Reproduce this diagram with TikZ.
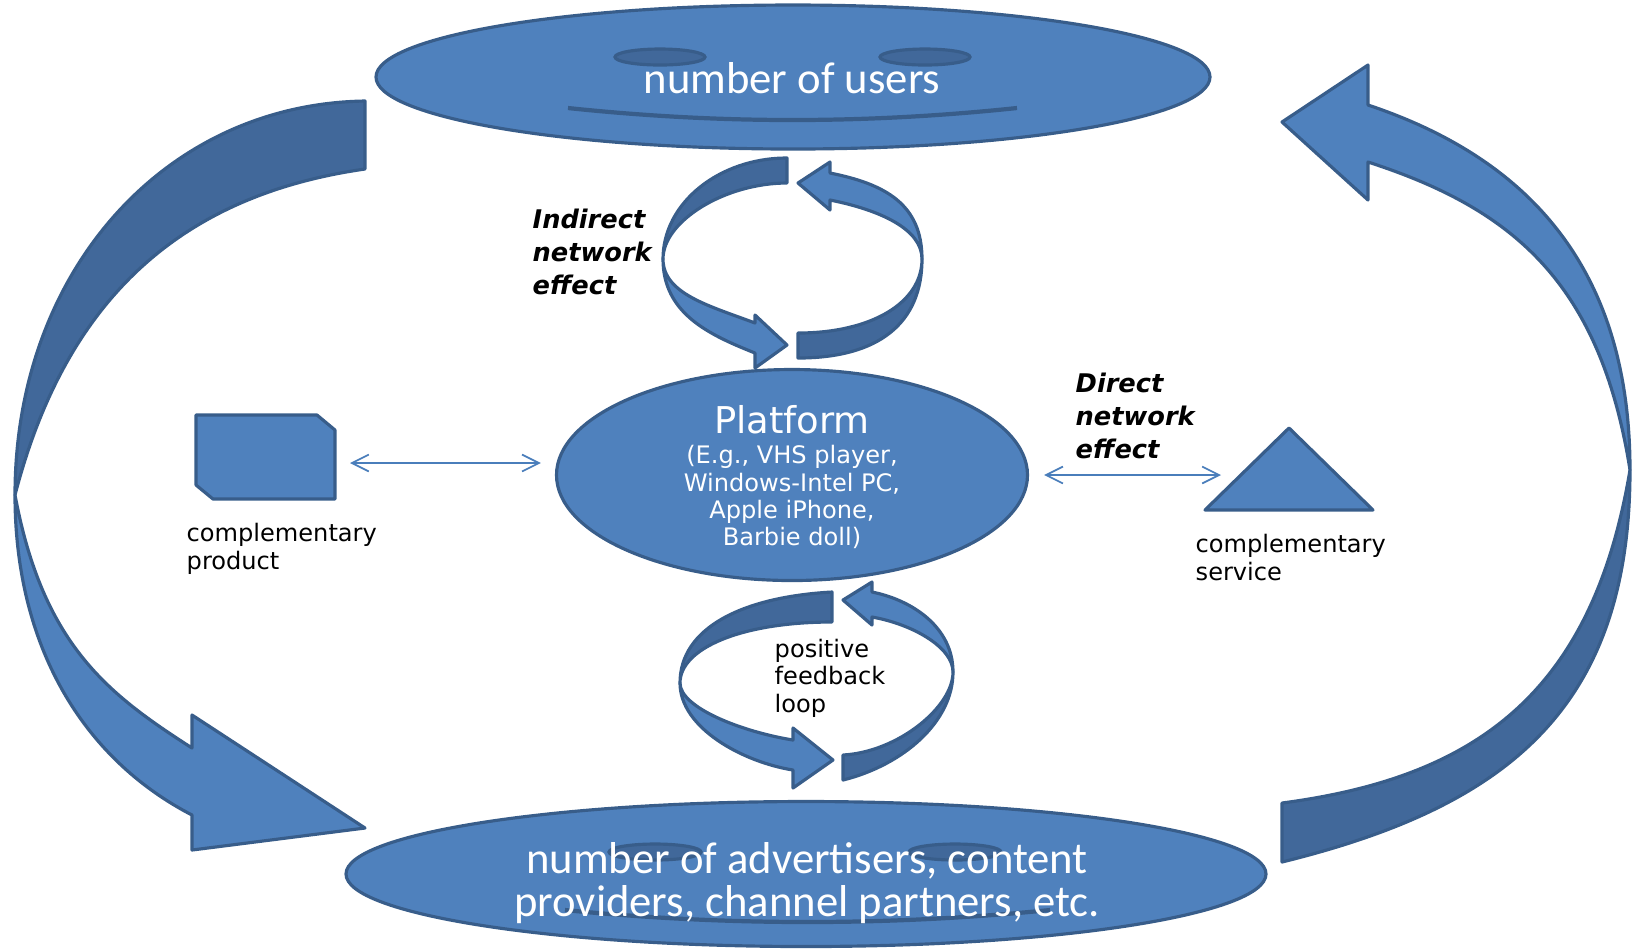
\documentclass[tikz,border=0pt]{standalone}
\usepackage{fontspec}
\usepackage{tikz}
\usetikzlibrary{arrows.meta,shapes.geometric}
\newfontfamily\vfont{DejaVu Sans}
\newfontfamily\cfont{Carlito}
\definecolor{ink}{HTML}{385D8A}
\definecolor{face}{HTML}{4F81BD}
\definecolor{shade}{HTML}{41689A}
\definecolor{thin}{HTML}{4A7EBB}
\newlength\unitpx
\setlength\unitpx{0.01cm}
\newcommand\tightlines{\lineskiplimit=-20pt\relax}

\begin{document}
\begin{tikzpicture}[
  x=0.01cm, y=-0.01cm,
  plate/.style={draw=ink,line width=0.9pt,fill=face,line join=round},
  plateback/.style={plate,fill=shade},
  blob/.style={ellipse,draw=ink,line width=0.9pt,fill=face,inner sep=0pt},
  eye/.style={draw=ink,line width=0.9pt,fill=shade},
  mouth/.style={draw=ink,line width=1.2pt},
  bigtext/.style={text=white,inner sep=0pt,font=\cfont\fontsize{12.7pt}{12.2pt}\selectfont\tightlines},
  note/.style={inner sep=0pt,align=left,anchor=base west,font=\vfont\fontsize{6.85pt}{7.7pt}\selectfont},
  tag/.style={note,font=\vfont\bfseries\itshape\fontsize{7.3pt}{9.3pt}\selectfont},
  twoway/.style={{Straight Barb[length=4.8pt,width=4.8pt]}-{Straight Barb[length=4.8pt,width=4.8pt]},draw=thin,line width=0.5pt}
]
\useasboundingbox (0,0) rectangle (1639,950);

\filldraw[plateback] (365,101) .. controls (165,104) and (15,271) .. (15,495)
  .. controls (68,290) and (190,194) .. (365,169) -- cycle;
\filldraw[plate] (15,495) .. controls (15,645) and (82,758) .. (192,815)
  -- (192,850) -- (365,828) -- (192,715) -- (192,748)
  .. controls (108,694) and (43,645) .. (15,495) -- cycle;

\filldraw[plate] (1630,470) .. controls (1630,270) and (1530,159) .. (1368,105)
  -- (1368,65) -- (1282,122) -- (1368,200) -- (1368,162)
  .. controls (1510,208) and (1600,280) .. (1630,470) -- cycle;
\filldraw[plateback] (1630,470) .. controls (1630,710) and (1505,807) .. (1282,862)
  -- (1282,803) .. controls (1480,777) and (1593,690) .. (1630,470) -- cycle;

\filldraw[plateback] (787,158) .. controls (719,158) and (663,203) .. (663,259)
  .. controls (663,221) and (725,183) .. (787,183) -- cycle;
\filldraw[plate] (663,259) .. controls (663,314) and (710,335) .. (755,353)
  -- (755,368) -- (787,345) -- (755,315) -- (755,323)
  .. controls (710,306) and (663,294) .. (663,259) -- cycle;
\filldraw[plateback] (798,358) .. controls (879,358) and (922,323) .. (922,259)
  .. controls (922,303) and (871,333) .. (798,333) -- cycle;
\filldraw[plate] (922,259) .. controls (922,204) and (885,184) .. (830,173)
  -- (830,162) -- (798,183) -- (830,210) -- (830,200)
  .. controls (880,210) and (922,229) .. (922,259) -- cycle;

\filldraw[plateback] (832,592) .. controls (742,597) and (680,628) .. (680,683)
  .. controls (680,648) and (742,622) .. (832,622) -- cycle;
\filldraw[plate] (680,683) .. controls (680,728) and (743,762) .. (793,770)
  -- (793,788) -- (833,760) -- (793,728) -- (793,740)
  .. controls (743,732) and (680,708) .. (680,683) -- cycle;
\filldraw[plateback] (843,780) .. controls (903,765) and (953,722) .. (953,672)
  .. controls (953,707) and (898,752) .. (843,755) -- cycle;
\filldraw[plate] (953,672) .. controls (953,627) and (912,600) .. (872,592)
  -- (872,582) -- (843,600) -- (872,625) -- (872,617)
  .. controls (912,624) and (953,647) .. (953,672) -- cycle;

\node[blob,minimum width=834\unitpx,minimum height=144\unitpx] (users) at (793,77) {};
\filldraw[eye] (660,57) ellipse [x radius=45\unitpx,y radius=8\unitpx];
\filldraw[eye] (925,57) ellipse [x radius=45\unitpx,y radius=8\unitpx];
\draw[mouth] (568,108) .. controls (720,124) and (865,124) .. (1017,108);
\node[bigtext,anchor=base] at (792,93) {number of users};

\node[blob,minimum width=920\unitpx,minimum height=145\unitpx] (partners) at (806,874) {};
\filldraw[eye] (655,852) ellipse [x radius=46\unitpx,y radius=8\unitpx];
\filldraw[eye] (955,852) ellipse [x radius=46\unitpx,y radius=8\unitpx];
\draw[mouth] (565,910) .. controls (727,926) and (888,926) .. (1050,910);
\node[bigtext,align=center] at (807,883) {number of advertisers, content\\providers, channel partners, etc.};

\node[blob,minimum width=471\unitpx,minimum height=211\unitpx] (platform) at (792,475) {};
\node[text=white,inner sep=0pt,align=center,font=\vfont\fontsize{6.85pt}{7.75pt}\selectfont] at (792,477)
  {{\fontsize{10.5pt}{12pt}\selectfont Platform}\\[1pt](E.g., VHS player,\\Windows-Intel PC,\\Apple iPhone,\\Barbie doll)};

\filldraw[plate] (196,415) -- (317,415) -- (335,430) -- (335,499) -- (213,499) -- (196,485) -- cycle;
\filldraw[plate] (1289,428) -- (1373,510) -- (1205,510) -- cycle;
\coordinate (prodside) at (335,463);
\coordinate (svcside) at (1241,475);
\draw[twoway,shorten <=15\unitpx,shorten >=14\unitpx] (prodside) -- (platform.west |- prodside);
\draw[twoway,shorten <=15\unitpx,shorten >=20\unitpx] (platform.east) -- (svcside);

\node[note] at (186,569) {complementary\\product};
\node[note] at (1195,580) {complementary\\service};
\node[note] at (774,712) {positive\\feedback\\loop};
\node[tag] at (532,294) {Indirect\\network\\effect};
\node[tag] at (1075,458) {Direct\\network\\effect};
\end{tikzpicture}
\end{document}
